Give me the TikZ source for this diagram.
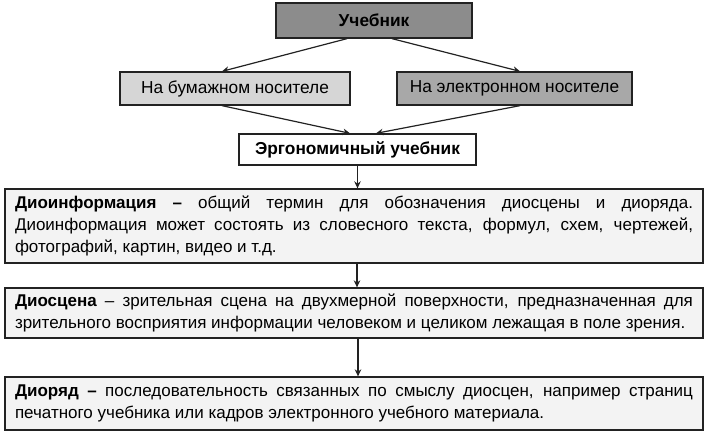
\documentclass[tikz,border=0pt]{standalone}
\usepackage{fontspec}
\setmainfont{Liberation Sans}
\usetikzlibrary{arrows.meta,calc}
\definecolor{topfill}{HTML}{8C8C8C}
\definecolor{leftfill}{HTML}{D6D6D6}
\definecolor{rightfill}{HTML}{A8A8A8}
\definecolor{bigfill}{HTML}{F3F3F3}
\definecolor{edge}{HTML}{222222}
\begin{document}
\begin{tikzpicture}[x=1pt,y=-1pt,
  box/.style={draw=edge,line width=1.3pt,inner sep=0pt,font=\fontsize{17.3}{22}\selectfont},
  bigbox/.style={box,fill=bigfill,minimum width=698pt,text width=678pt,align=justify,font=\fontsize{17}{22.3}\selectfont},
  arr/.style={draw=edge,line width=1.2pt,-{Stealth[length=7pt,width=6.5pt]}}]
\useasboundingbox (0,0) rectangle (708,435);
\node[box,fill=topfill,minimum width=196pt,minimum height=35pt] (top) at (374,20.5) {\textbf{Учебник}};
\node[box,fill=leftfill,minimum width=230pt,minimum height=33pt] (left) at (235,88.5) {На бумажном носителе};
\node[box,fill=rightfill,minimum width=235pt,minimum height=33pt] (right) at (514.5,88.5) {На электронном носителе};
\node[box,fill=white,minimum width=237pt,minimum height=31pt] (ergo) at (357.5,149.5) {\textbf{Эргономичный учебник}};
\node[bigbox,minimum height=74pt] (b1) at (354,226) {\textbf{Диоинформация –} общий термин для обозначения диосцены и диоряда.\linebreak Диоинформация может состоять из словесного текста, формул, схем, чертежей,\linebreak фотографий, картин, видео и т.д.};
\node[bigbox,minimum height=50pt] (b2) at (354,313) {\textbf{Диосцена} – зрительная сцена на двухмерной поверхности, предназначенная для\linebreak зрительного восприятия информации человеком и целиком лежащая в поле зрения.};
\node[bigbox,minimum height=53pt] (b3) at (354,403.5) {\textbf{Диоряд –} последовательность связанных по смыслу диосцен, например страниц\linebreak печатного учебника или кадров электронного учебного материала.};
\draw[arr] ([xshift=-27pt]top.south) -- ([xshift=-13pt]left.north);
\draw[arr] ([xshift=18pt]top.south) -- ([xshift=5.5pt]right.north);
\draw[arr] ([xshift=-13pt]left.south) -- ([xshift=-7.5pt]ergo.north);
\draw[arr] ([xshift=5.5pt]right.south) -- ([xshift=18.5pt]ergo.north);
\draw[arr] (ergo.south) -- (ergo.south |- b1.north);
\draw[arr] ([xshift=3pt]b1.south) -- ([xshift=3pt]b2.north);
\draw[arr] ([xshift=4pt]b2.south) -- ([xshift=4pt]b3.north);
\end{tikzpicture}
\end{document}
